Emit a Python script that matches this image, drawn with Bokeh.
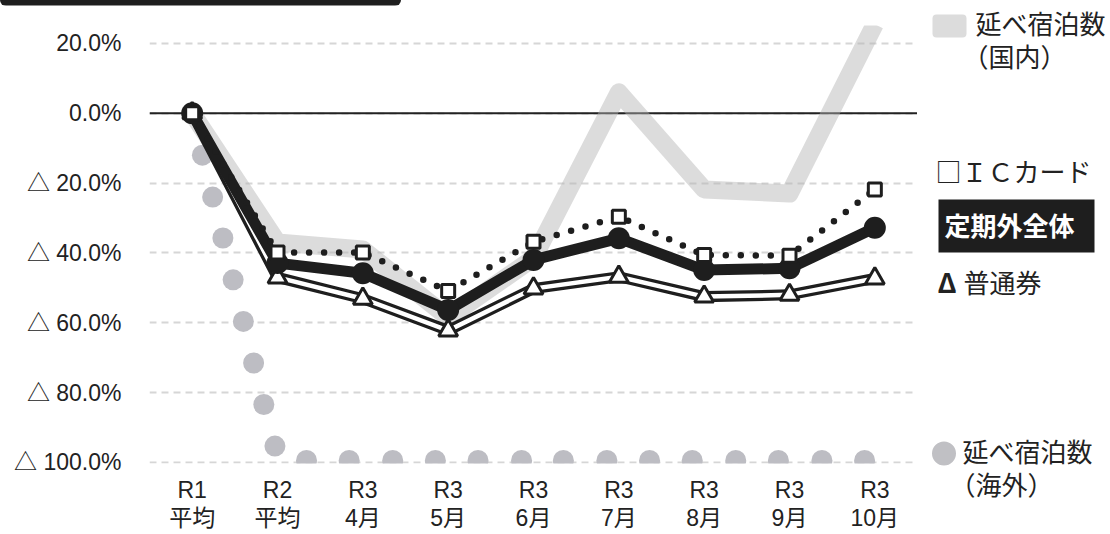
from bokeh.plotting import figure
from bokeh.models import Range1d, FixedTicker, Span, Label, BoxAnnotation, Div
from bokeh.layouts import column, row
from bokeh.embed import file_html
from bokeh.resources import INLINE

# ---------------- data ----------------
categories = ["R1\n平均", "R2\n平均", "R3\n4月", "R3\n5月", "R3\n6月",
              "R3\n7月", "R3\n8月", "R3\n9月", "R3\n10月"]
cat_pos = [0, 1, 2, 3, 4, 5, 6, 7, 8]

domestic = [0, -37.0, -39.0, -58.5, -41.5, 6.0, -21.8, -23.0, 25.5]      # 延べ宿泊数（国内）
teikigai = [0, -42.9, -45.8, -56.3, -42.0, -35.8, -44.9, -44.4, -32.8]   # 定期外全体
ic_card = [0, -39.9, -39.9, -50.9, -36.8, -29.6, -40.6, -40.8, -21.8]    # ＩＣカード
futsuken = [0, -47.0, -53.1, -62.2, -50.2, -46.8, -52.5, -52.0, -47.3]   # 普通券

overseas_x = [0.12, 0.24, 0.36, 0.48, 0.60, 0.72, 0.84, 0.97,
              1.34, 1.84, 2.35, 2.85, 3.35, 3.86, 4.35, 4.86,
              5.36, 5.86, 6.37, 6.87, 7.38, 7.88]
overseas = [-12.0, -24.0, -35.7, -47.7, -59.6, -71.5, -83.4, -95.3,
            -99.4, -99.4, -99.4, -99.4, -99.4, -99.4, -99.4, -99.4,
            -99.4, -99.4, -99.4, -99.4, -99.4, -99.4]                     # 延べ宿泊数（海外）

y_ticks = [20, 0, -20, -40, -60, -80, -100]
y_tick_labels = ["20.0%", "0.0%", "△ 20.0%", "△ 40.0%", "△ 60.0%", "△ 80.0%", "△ 100.0%"]

legend_labels = ["延べ宿泊数", "（国内）", "□ＩＣカード", "定期外全体", "Δ", "普通券", "延べ宿泊数", "（海外）"]

# ---------------- layout constants ----------------
W, H = 1110, 534
BANNER_H = 6
MAIN_W = 917
MAIN_H = H - BANNER_H
FL, FT, FB = 149, 25 - BANNER_H, 464 - BANNER_H
Y0, Y1 = -100.29, 25.14
X0, X1 = -0.5, 8.5

LAT = "'Liberation Sans', 'Noto Sans CJK JP'"
CJK = "'Noto Sans CJK JP'"
INK = "#222222"
DARK = "#1e1e1e"

# ---------------- banner strip (decorative header bar) ----------------
banner = Div(text="", width=401, height=BANNER_H, margin=0,
             styles={"background": "linear-gradient(to bottom, #1e1e1e 0px, #1e1e1e 5px, "
                                   "#8f8f8f 5px, #8f8f8f 6px)",
                     "border-radius": "0 0 10px 10px",
                     "display": "block"})

# ---------------- main chart ----------------
p = figure(width=MAIN_W, height=MAIN_H, x_range=Range1d(X0, X1), y_range=Range1d(Y0, Y1),
           output_backend="svg", toolbar_location=None,
           min_border_left=FL, min_border_right=0,
           min_border_top=FT, min_border_bottom=MAIN_H - FB)
p.frame_align = False
p.outline_line_color = None
p.background_fill_color = "white"
p.border_fill_color = "white"

xa = p.xaxis[0]
xa.ticker = FixedTicker(ticks=cat_pos)
xa.major_label_overrides = {i: c for i, c in zip(cat_pos, categories)}
xa.axis_line_color = None
xa.major_tick_line_color = None
xa.major_tick_out = 0
xa.major_tick_in = 0
xa.minor_tick_line_color = None
xa.major_label_text_font = LAT
xa.major_label_text_font_size = "23px"
xa.major_label_text_color = INK
xa.major_label_text_line_height = 1.1
xa.major_label_standoff = 13

ya = p.yaxis[0]
ya.ticker = FixedTicker(ticks=y_ticks)
ya.major_label_overrides = {t: l for t, l in zip(y_ticks, y_tick_labels)}
ya.axis_line_color = None
ya.major_tick_line_color = None
ya.major_tick_out = 0
ya.major_tick_in = 0
ya.minor_tick_line_color = None
ya.major_label_text_font = LAT
ya.major_label_text_font_size = "23px"
ya.major_label_text_color = INK
ya.major_label_standoff = 28

p.xgrid.visible = False
p.ygrid.ticker = FixedTicker(ticks=y_ticks)
p.ygrid.grid_line_color = "#d6d6d6"
p.ygrid.grid_line_width = 2
p.ygrid.grid_line_dash = "7 5"

p.add_layout(Span(location=0, dimension="width", line_color=INK, line_width=2, level="underlay"))

p.scatter(overseas_x, overseas, size=21, marker="circle", fill_color="#bdbdc3", line_color=None)

p.line(cat_pos, domestic, line_width=18, line_color="#b3b3b3", line_alpha=0.46, line_join="round")

p.line(cat_pos, futsuken, line_width=11, line_color=DARK, line_join="miter")
p.line(cat_pos, futsuken, line_width=4.5, line_color="white", line_join="miter")
p.scatter(cat_pos, futsuken, marker="triangle", size=19, fill_color="white",
          line_color=DARK, line_width=3)

p.line(cat_pos, teikigai, line_width=11, line_color=DARK, line_join="round")
p.scatter(cat_pos, teikigai, marker="circle", size=22, fill_color=DARK, line_color=None)

p.line(cat_pos, ic_card, line_width=6.5, line_color=DARK, line_dash="0 15", line_cap="round")
p.scatter(cat_pos, ic_card, marker="square", size=13, fill_color="white",
          line_color=DARK, line_width=3)

# ---------------- legend panel (page-pixel coordinates) ----------------
LW = W - MAIN_W
leg = figure(width=LW, height=H, x_range=Range1d(MAIN_W, W), y_range=Range1d(H, 0),
             output_backend="svg", toolbar_location=None,
             x_axis_type=None, y_axis_type=None,
             min_border_left=0, min_border_right=0, min_border_top=0, min_border_bottom=0)
leg.frame_align = False
leg.outline_line_color = None
leg.grid.visible = False

def txt(px, py, s, color=INK, bold=False, size="26px"):
    leg.add_layout(Label(x=px, y=py, text=s, text_font=CJK, text_font_size=size,
                         text_color=color, text_baseline="middle", text_align="left",
                         text_font_style="bold" if bold else "normal"))

leg.add_layout(BoxAnnotation(left=932, right=966, top=14, bottom=37,
                             fill_color="#dcdcdc", fill_alpha=1, line_color=None, border_radius=4))
txt(975, 22, legend_labels[0])
txt(962, 55, legend_labels[1])
txt(935, 170, legend_labels[2])
leg.add_layout(BoxAnnotation(left=938, right=1094, top=199, bottom=252,
                             fill_color=DARK, fill_alpha=1, line_color=None))
txt(944, 224, legend_labels[3], color="white", bold=True)
txt(937, 281, legend_labels[4], bold=True, size="27px")
txt(963, 281, legend_labels[5])
leg.add_layout(BoxAnnotation(left=931.5, right=955.5, top=441, bottom=465,
                             fill_color="#c0c0c4", fill_alpha=1, line_color=None, border_radius=12))
txt(962, 450, legend_labels[6])
txt(949, 483, legend_labels[7])

layout = row(column(banner, p), leg)
open("out.html", "w").write(file_html(layout, INLINE))
